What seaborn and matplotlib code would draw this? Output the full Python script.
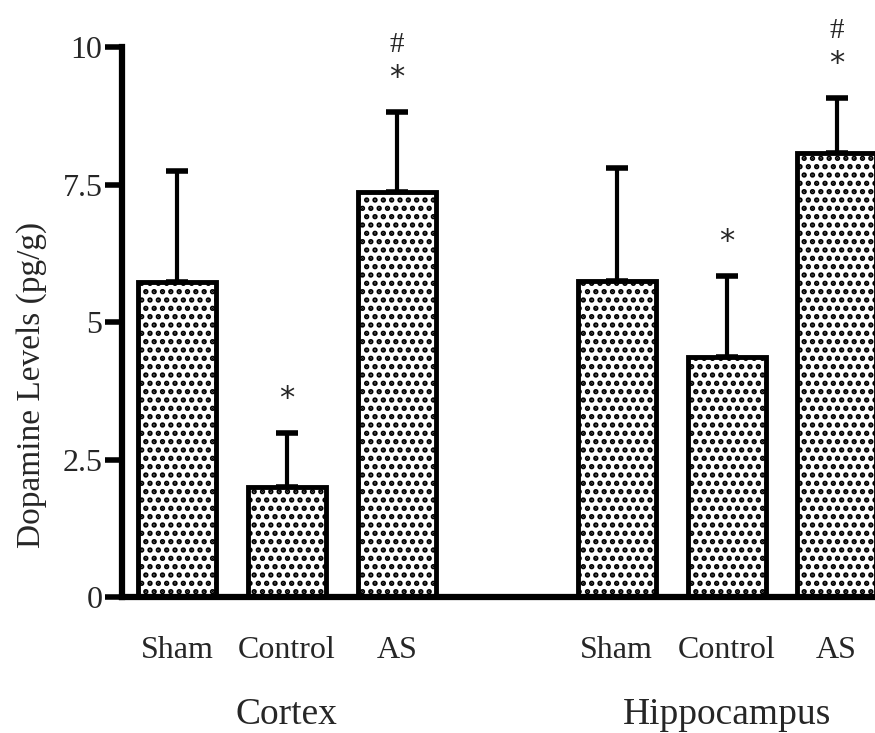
import matplotlib
matplotlib.use("Agg")
import matplotlib.pyplot as plt
import matplotlib.transforms as mtransforms
import seaborn as sns
import pandas as pd
import numpy as np

# ---- data ----
regions = ["Cortex", "Cortex", "Cortex", "Hippocampus", "Hippocampus", "Hippocampus"]
groups = ["Sham", "Control", "AS", "Sham", "Control", "AS"]
positions = [0, 1, 2, 4, 5, 6]
means = [5.73, 2.0, 7.36, 5.75, 4.36, 8.07]
errors = [2.02, 0.98, 1.46, 2.05, 1.48, 1.0]
marks = ["", "*", "*", "", "*", "*"]
hashes = ["", "", "#", "", "", "#"]
region_names = ["Cortex", "Hippocampus"]
region_centers = [1, 5]
yticks = [0, 2.5, 5, 7.5, 10]
ytick_labels = ["0", "2.5", "5", "7.5", "10"]

df = pd.DataFrame({"pos": positions, "mean": means, "group": groups, "region": regions})

sns.set_theme(style="white")
plt.rcParams["font.family"] = ["Liberation Serif", "DejaVu Serif"]
plt.rcParams["hatch.linewidth"] = 2.6
plt.rcParams["hatch.color"] = "black"

fig = plt.figure(figsize=(8.75, 7.33), dpi=100)
ax = fig.add_axes([0.1394, 0.1855, 0.8606, 0.750])

sns.barplot(data=df, x="pos", y="mean", native_scale=True, width=0.71,
            color="white", edgecolor="black", linewidth=3.5, errorbar=None,
            ax=ax, zorder=2)
for p in ax.patches:
    p.set_hatch("..")
    p.set_facecolor("white")
    p.set_edgecolor("black")

ax.errorbar(positions, means, yerr=[np.zeros(len(errors)), errors], fmt="none",
            ecolor="black", elinewidth=3, capsize=8, capthick=4, zorder=1)

for x, m, e, s, h in zip(positions, means, errors, marks, hashes):
    top = m + e
    if s:
        ax.text(x, top + 0.63, s, ha="center", va="center", fontsize=22,
                family=["DejaVu Sans"], clip_on=False)
    if h:
        ax.text(x, top + 1.22, h, ha="center", va="center", fontsize=21,
                clip_on=False)

ax.set_xlim(-0.5, 6.35)
ax.set_ylim(0, 10)
ax.set_yticks(yticks)
ax.set_yticklabels(ytick_labels, fontsize=23)
ax.set_xticks(positions)
ax.set_xticklabels(groups, fontsize=23)
ax.tick_params(axis="x", length=0, pad=28)
ax.tick_params(axis="y", length=12, width=4, direction="out", color="black", pad=2,
               left=True)
ax.set_xlabel("")
ax.set_ylabel("Dopamine Levels (pg/g)", fontsize=24)
ax.yaxis.set_label_coords(-0.10, 0.385)

for sp in ["top", "right"]:
    ax.spines[sp].set_visible(False)
for sp in ["left", "bottom"]:
    ax.spines[sp].set_linewidth(4.5)
    ax.spines[sp].set_color("black")

trans = mtransforms.blended_transform_factory(ax.transData, ax.transAxes)
for name, c in zip(region_names, region_centers):
    ax.text(c, -0.231, name, transform=trans, ha="center", va="baseline", fontsize=27)

fig.savefig("out.png", dpi=100)
